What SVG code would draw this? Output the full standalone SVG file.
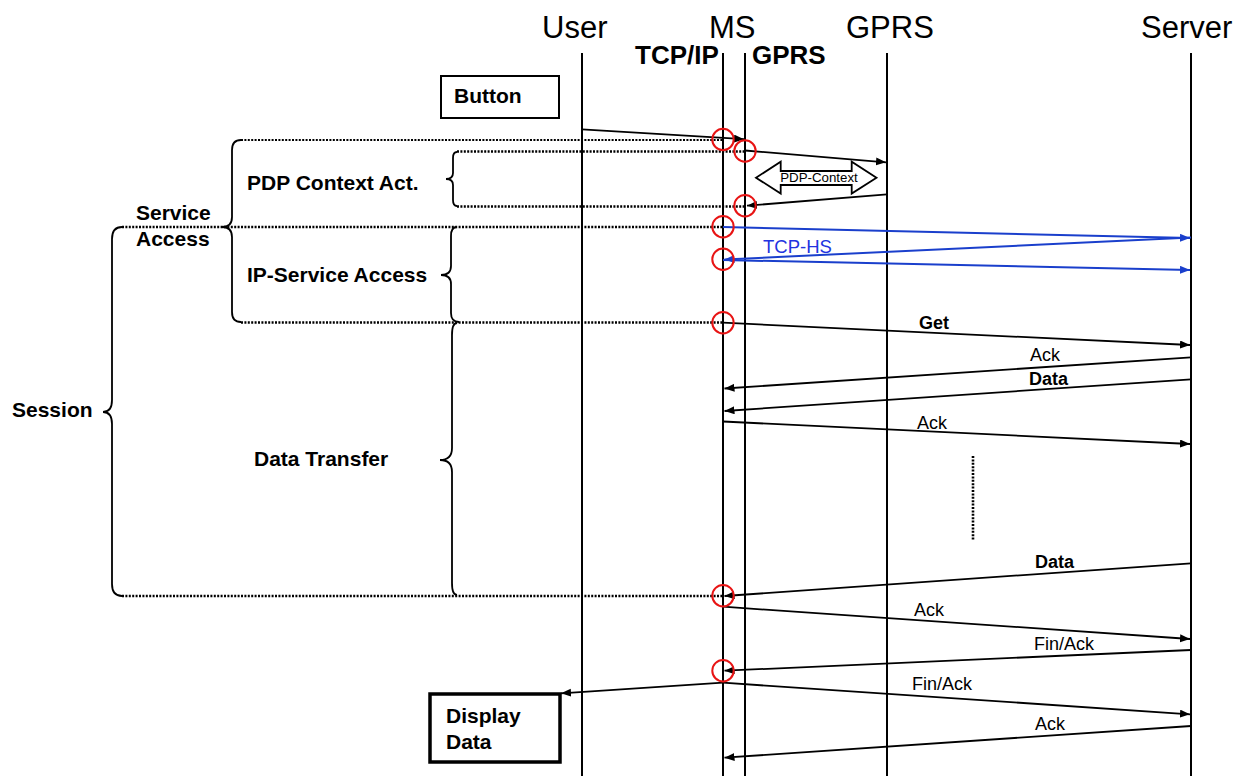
<svg xmlns="http://www.w3.org/2000/svg" width="1235" height="776" viewBox="0 0 1235 776">
<style>
.life{stroke:#000;stroke-width:2;fill:none}
.hdr{font-family:"Liberation Sans",Arial,sans-serif;font-size:31px;fill:#000}
.sub{font-family:"Liberation Sans",Arial,sans-serif;font-size:26px;font-weight:bold;fill:#000}
.lbl{font-family:"Liberation Sans",Arial,sans-serif;font-size:21px;font-weight:bold;fill:#000}
.msg{font-family:"Liberation Sans",Arial,sans-serif;font-size:18px;fill:#000}
.msgb{font-family:"Liberation Sans",Arial,sans-serif;font-size:18px;font-weight:bold;fill:#000}
.arr{stroke:#000;stroke-width:1.8;fill:none;marker-end:url(#ah)}
.blue{stroke:#1a3fcc;stroke-width:2;fill:none;marker-end:url(#ahb)}
.dot{stroke:#000;stroke-width:2.6;stroke-dasharray:2 1.4;fill:none}
.dotl{stroke:#000;stroke-width:1.8;stroke-dasharray:2 1.4;fill:none}
.brace{stroke:#000;stroke-width:1.8;fill:none}
.mark{stroke:#e81414;stroke-width:2;fill:none}
</style>
<defs>
<marker id="ah" markerUnits="userSpaceOnUse" markerWidth="11" markerHeight="9" refX="10" refY="4" orient="auto"><path d="M0,0 L10,4 L0,8 z" fill="#000"/></marker>
<marker id="ahb" markerUnits="userSpaceOnUse" markerWidth="11" markerHeight="9" refX="10" refY="4" orient="auto"><path d="M0,0 L10,4 L0,8 z" fill="#1a3fcc"/></marker>
</defs>
<rect width="1235" height="776" fill="#fff"/>

<g id="user">
<text class="hdr" x="542" y="38">User</text>
<line class="life" x1="582" y1="53" x2="582" y2="776"/>
</g>
<g id="ms">
<text class="hdr" x="709" y="38">MS</text>
<text class="sub" x="635" y="64">TCP/IP</text>
<text class="sub" x="752" y="64">GPRS</text>
<line class="life" x1="723" y1="53" x2="723" y2="776"/>
<line class="life" x1="745" y1="53" x2="745" y2="776"/>
</g>
<g id="gprs">
<text class="hdr" x="846" y="38">GPRS</text>
<line class="life" x1="887" y1="53" x2="887" y2="776"/>
</g>
<g id="server">
<text class="hdr" x="1141" y="38">Server</text>
<line class="life" x1="1191" y1="53" x2="1191" y2="776"/>
</g>

<g id="button">
<rect x="441" y="76" width="118" height="42" fill="#fff" stroke="#000" stroke-width="2"/>
<text class="lbl" x="454" y="103">Button</text>
</g>
<g id="display-data">
<rect x="430" y="694" width="130" height="68" fill="#fff" stroke="#000" stroke-width="3.5"/>
<text class="lbl" x="446" y="723">Display</text>
<text class="lbl" x="446" y="749">Data</text>
</g>

<g id="service-access">
<path class="brace" d="M241,140 Q232,140 232,150 L232,217 Q232,227 222,227 Q232,227 232,237 L232,312 Q232,322 241,322"/>
<text class="lbl" x="136" y="220">Service</text>
<text class="lbl" x="136" y="246">Access</text>
</g>
<g id="pdp-context-act">
<path class="brace" d="M457,152 Q453,152 453,158 L453,173 Q453,179 446,179 Q453,179 453,185 L453,200 Q453,206 457,206"/>
<text class="lbl" x="247" y="190">PDP Context Act.</text>
</g>
<g id="ip-service-access">
<path class="brace" d="M457,227 Q451,227 451,236 L451,266 Q451,275 441,275 Q451,275 451,284 L451,313 Q451,322 459,322"/>
<text class="lbl" x="247" y="282">IP-Service Access</text>
</g>
<g id="session">
<path class="brace" d="M122,227 Q112,227 112,239 L112,400 Q112,412 103,412 Q112,412 112,424 L112,584 Q112,596 122,596"/>
<text class="lbl" x="12" y="417">Session</text>
</g>
<g id="data-transfer">
<path class="brace" d="M457,323 Q452,323 452,335 L452,448 Q452,460 440,460 Q452,460 452,472 L452,583 Q452,595 457,595"/>
<text class="lbl" x="254" y="466">Data Transfer</text>
</g>

<g id="pdp-context">
<path d="M756,177.7 L780.7,161.7 L780.7,171 L851.7,171 L851.7,161.7 L876.5,177.7 L851.7,193.5 L851.7,185 L780.7,185 L780.7,193.5 Z" fill="#fff" stroke="#000" stroke-width="1.8"/>
<text x="819" y="182" text-anchor="middle" font-family="'Liberation Sans',Arial,sans-serif" font-size="13.3" fill="#000">PDP-Context</text>
</g>

<g id="connectors">
<line class="dotl" x1="241" y1="140" x2="723" y2="140"/>
<line class="dot" x1="457" y1="151.5" x2="745" y2="151.5"/>
<line class="dot" x1="457" y1="206.5" x2="745" y2="206.5"/>
<line class="dot" x1="122" y1="227" x2="723" y2="227"/>
<line class="dot" x1="241" y1="322.5" x2="723" y2="322.5"/>
<line class="dot" x1="122" y1="596" x2="723" y2="596"/>
<line class="dot" x1="973" y1="456" x2="973" y2="541"/>

<line class="arr" x1="582" y1="129.3" x2="744" y2="139.2"/>
<line class="arr" x1="745" y1="150.5" x2="886" y2="162.3"/>
<line class="arr" x1="887" y1="194.3" x2="747" y2="205.7"/>

<line class="blue" x1="723" y1="227" x2="1190" y2="238"/>
<line class="blue" x1="1191" y1="237.5" x2="724.5" y2="259.5"/>
<line class="blue" x1="723" y1="260" x2="1190" y2="270"/>
<text x="763" y="252.5" font-family="'Liberation Sans',Arial,sans-serif" font-size="18.5" fill="#2233e0">TCP-HS</text>

<line class="arr" x1="723" y1="322.7" x2="1190" y2="345"/>
<text class="msgb" x="919" y="329">Get</text>
<line class="arr" x1="1191" y1="357.3" x2="724.5" y2="388.5"/>
<text class="msg" x="1030" y="361">Ack</text>
<line class="arr" x1="1191" y1="379.3" x2="724.5" y2="411"/>
<text class="msgb" x="1029" y="384.5">Data</text>
<line class="arr" x1="723" y1="421.5" x2="1190" y2="444"/>
<text class="msg" x="917" y="428.5">Ack</text>

<line class="arr" x1="1191" y1="563.3" x2="724.5" y2="596"/>
<text class="msgb" x="1035" y="567.5">Data</text>
<line class="arr" x1="723" y1="606.7" x2="1190" y2="639"/>
<text class="msg" x="914" y="616">Ack</text>
<line class="arr" x1="1191" y1="650" x2="724.5" y2="670.7"/>
<text class="msg" x="1034" y="650">Fin/Ack</text>
<line class="arr" x1="723" y1="682.7" x2="561" y2="693.3"/>
<line class="arr" x1="723" y1="682.7" x2="1190" y2="714.3"/>
<text class="msg" x="912" y="690">Fin/Ack</text>
<line class="arr" x1="1191" y1="726" x2="724.5" y2="757.7"/>
<text class="msg" x="1035" y="730">Ack</text>

<circle class="mark" cx="723" cy="139.5" r="10.7"/>
<circle class="mark" cx="745" cy="151" r="10.7"/>
<circle class="mark" cx="745" cy="205.7" r="10.7"/>
<circle class="mark" cx="723" cy="226.7" r="10.7"/>
<circle class="mark" cx="723" cy="259.3" r="10.7"/>
<circle class="mark" cx="723" cy="322.7" r="10.7"/>
<circle class="mark" cx="723" cy="595.7" r="10.7"/>
<circle class="mark" cx="723" cy="670.7" r="10.7"/>
</g>
</svg>
